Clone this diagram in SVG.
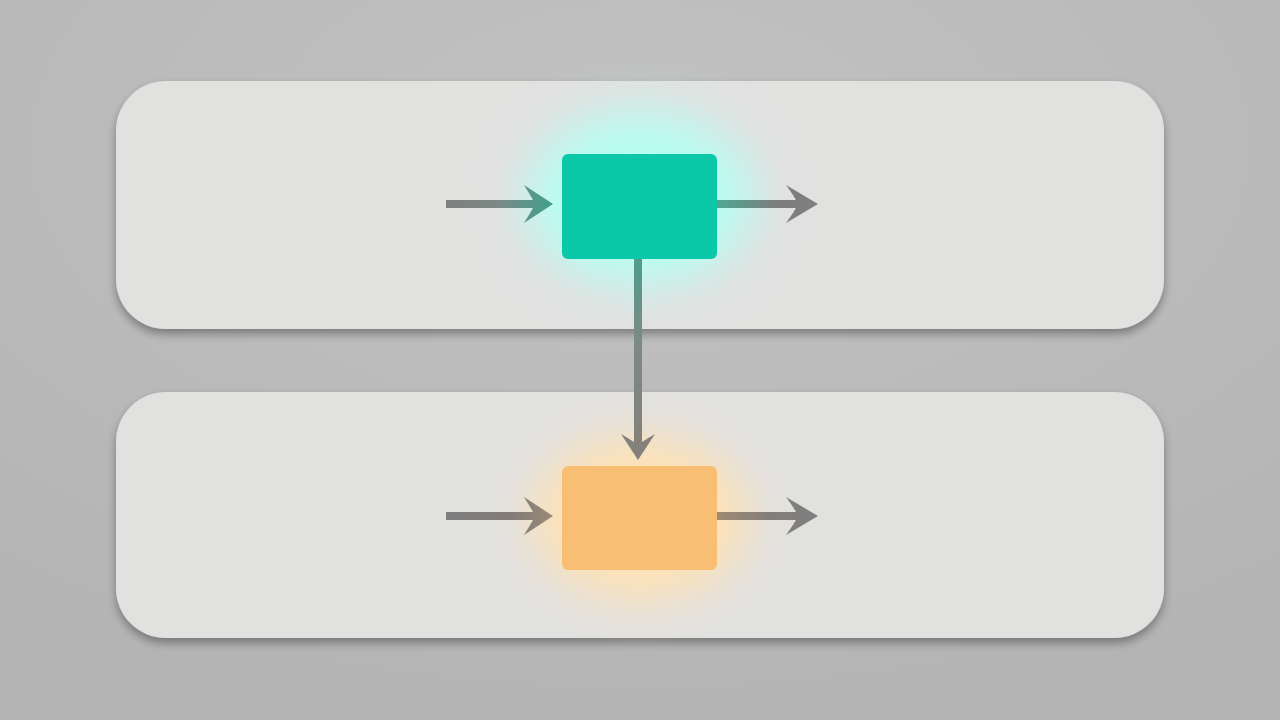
<svg xmlns="http://www.w3.org/2000/svg" width="1280" height="720" viewBox="0 0 1280 720">
<defs>
<radialGradient id="bg" cx="50%" cy="20%" r="80%">
<stop offset="0" stop-color="#c2c2c2"/>
<stop offset="1" stop-color="#b4b4b4"/>
</radialGradient>
<filter id="shadow" x="-10%" y="-20%" width="120%" height="150%">
<feGaussianBlur in="SourceAlpha" stdDeviation="5"/>
<feOffset dx="0" dy="5"/>
<feComponentTransfer><feFuncA type="linear" slope="0.35"/></feComponentTransfer>
<feMerge><feMergeNode/><feMergeNode in="SourceGraphic"/></feMerge>
</filter>
<filter id="glow" x="-150%" y="-200%" width="400%" height="500%">
<feGaussianBlur stdDeviation="24"/>
</filter>
<linearGradient id="inT" x1="446" y1="0" x2="553" y2="0" gradientUnits="userSpaceOnUse">
<stop offset="0" stop-color="#7f7f7f"/><stop offset="0.5" stop-color="#7a8a86"/><stop offset="1" stop-color="#3fa08c"/>
</linearGradient>
<linearGradient id="outT" x1="717" y1="0" x2="818" y2="0" gradientUnits="userSpaceOnUse">
<stop offset="0" stop-color="#4ea892"/><stop offset="0.6" stop-color="#7d7d7d"/><stop offset="1" stop-color="#7f7f7f"/>
</linearGradient>
<linearGradient id="down" x1="0" y1="259" x2="0" y2="460" gradientUnits="userSpaceOnUse">
<stop offset="0" stop-color="#4f9d8a"/><stop offset="0.4" stop-color="#7b8a86"/><stop offset="1" stop-color="#857f79"/>
</linearGradient>
<linearGradient id="inB" x1="446" y1="0" x2="553" y2="0" gradientUnits="userSpaceOnUse">
<stop offset="0" stop-color="#7f7f7f"/><stop offset="0.6" stop-color="#827c77"/><stop offset="1" stop-color="#9a8a78"/>
</linearGradient>
<linearGradient id="outB" x1="717" y1="0" x2="818" y2="0" gradientUnits="userSpaceOnUse">
<stop offset="0" stop-color="#a08a72"/><stop offset="0.5" stop-color="#837e7a"/><stop offset="1" stop-color="#7f7f7f"/>
</linearGradient>
</defs>
<style>
.panel{fill:#e1e1e0;filter:url(#shadow)}
.node{stroke:none}
</style>
<rect width="1280" height="720" fill="url(#bg)"/>
<g id="lane-top"><rect class="panel" x="116" y="81" width="1048" height="248" rx="50"/></g>
<g id="lane-bottom"><rect class="panel" x="116" y="392" width="1048" height="246" rx="50"/></g>
<g id="glows">
<ellipse cx="640" cy="198" rx="112" ry="86" fill="#b6fff3" filter="url(#glow)"/>
<ellipse cx="640" cy="518" rx="108" ry="82" fill="#ffe2b4" filter="url(#glow)"/>
</g>
<g id="connectors">
<path d="M446 200 H533 Q529 193 524 185 L553 204 L524 223 Q529 215 533 208 H446 Z" fill="url(#inT)"/>
<path d="M717 200 H796 Q792 193 786 185 L818 204 L786 223 Q792 215 796 208 H717 Z" fill="url(#outT)"/>
<path d="M634 259 V442 Q628 438 621 434 L638 460 L655 434 Q648 438 642 442 V259 Z" fill="url(#down)"/>
<path d="M446 512 H533 Q529 505 524 497 L553 516 L524 535 Q529 527 533 520 H446 Z" fill="url(#inB)"/>
<path d="M717 512 H796 Q792 505 786 497 L818 516 L786 535 Q792 527 796 520 H717 Z" fill="url(#outB)"/>
</g>
<g id="node-top"><rect class="node" x="562" y="154" width="155" height="105" rx="6" fill="#0bc9a8"/></g>
<g id="node-bottom"><rect class="node" x="562" y="466" width="155" height="104" rx="6" fill="#f8be73"/></g>
</svg>
